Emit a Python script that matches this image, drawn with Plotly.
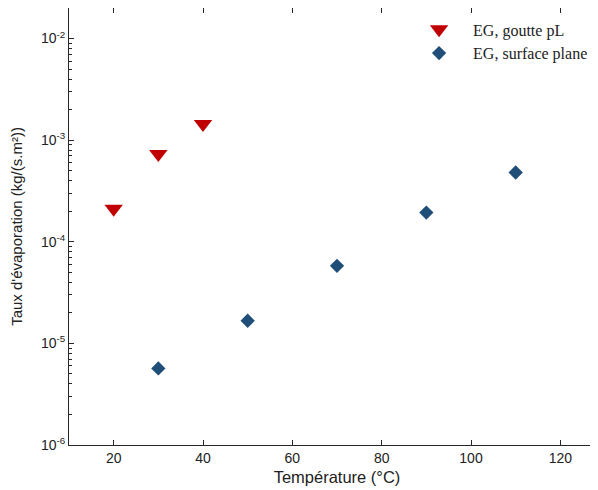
import numpy as np
import plotly.graph_objects as go

# Data
temp_goutte = [20, 30, 40]
rate_goutte = [2.12e-4, 7.3e-4, 1.44e-3]
temp_plane = [30, 50, 70, 90, 110]
rate_plane = [5.67e-6, 1.67e-5, 5.8e-5, 1.94e-4, 4.81e-4]
label_goutte = "EG, goutte pL"
label_plane = "EG, surface plane"
x_ticks = [20, 40, 60, 80, 100, 120]
y_exponents = [-6, -5, -4, -3, -2]
y_ticks = [10.0 ** e for e in y_exponents]
y_ticktext = [f"10<sup>{e}</sup>" for e in y_exponents]
y_minor = [m * 10.0 ** e for e in [-6, -5, -4, -3, -2] for m in range(2, 10) if m * 10.0 ** e <= 0.02]

fig = go.Figure()
fig.add_trace(go.Scatter(
    x=temp_goutte, y=rate_goutte, mode="markers", name=label_goutte,
    marker=dict(symbol="triangle-down", size=16, color="#C00000"),
))
fig.add_trace(go.Scatter(
    x=temp_plane, y=rate_plane, mode="markers", name=label_plane,
    marker=dict(symbol="diamond", size=11, color="#1F4E79"),
))

axis_col = "#262626"
fig.update_layout(
    width=598, height=490,
    margin=dict(l=61, r=1, t=0, b=53),
    paper_bgcolor="white", plot_bgcolor="white",
    font=dict(family="Liberation Sans, Arial", size=14, color="#222"),
    showlegend=True,
    legend=dict(
        x=0.627, y=0.99, xanchor="left", yanchor="top",
        bgcolor="rgba(0,0,0,0)",
        font=dict(family="Liberation Serif, Times New Roman", size=16, color="#222"),
        itemsizing="trace", tracegroupgap=0, itemwidth=58,
    ),
    xaxis=dict(
        range=[10, 130], tickvals=x_ticks, automargin=False,
        showgrid=False, zeroline=False,
        showline=True, linecolor=axis_col, linewidth=1, mirror="ticks",
        ticks="inside", ticklen=5, tickcolor=axis_col,
        title=dict(text="Température (°C)", standoff=6, font=dict(size=16.5)),
    ),
    yaxis=dict(
        type="log", range=[-6, np.log10(0.02)], tickvals=y_ticks, ticktext=y_ticktext,
        automargin=False,
        showgrid=False, zeroline=False,
        showline=True, linecolor=axis_col, linewidth=1, mirror=False,
        ticks="inside", ticklen=5, tickcolor=axis_col,
        minor=dict(ticks="inside", ticklen=3, tickcolor=axis_col, tickvals=y_minor, showgrid=False),
        title=dict(text="Taux d'évaporation (kg/(s.m²))", standoff=20, font=dict(size=15)),
    ),
)

fig.write_html("out.html")
